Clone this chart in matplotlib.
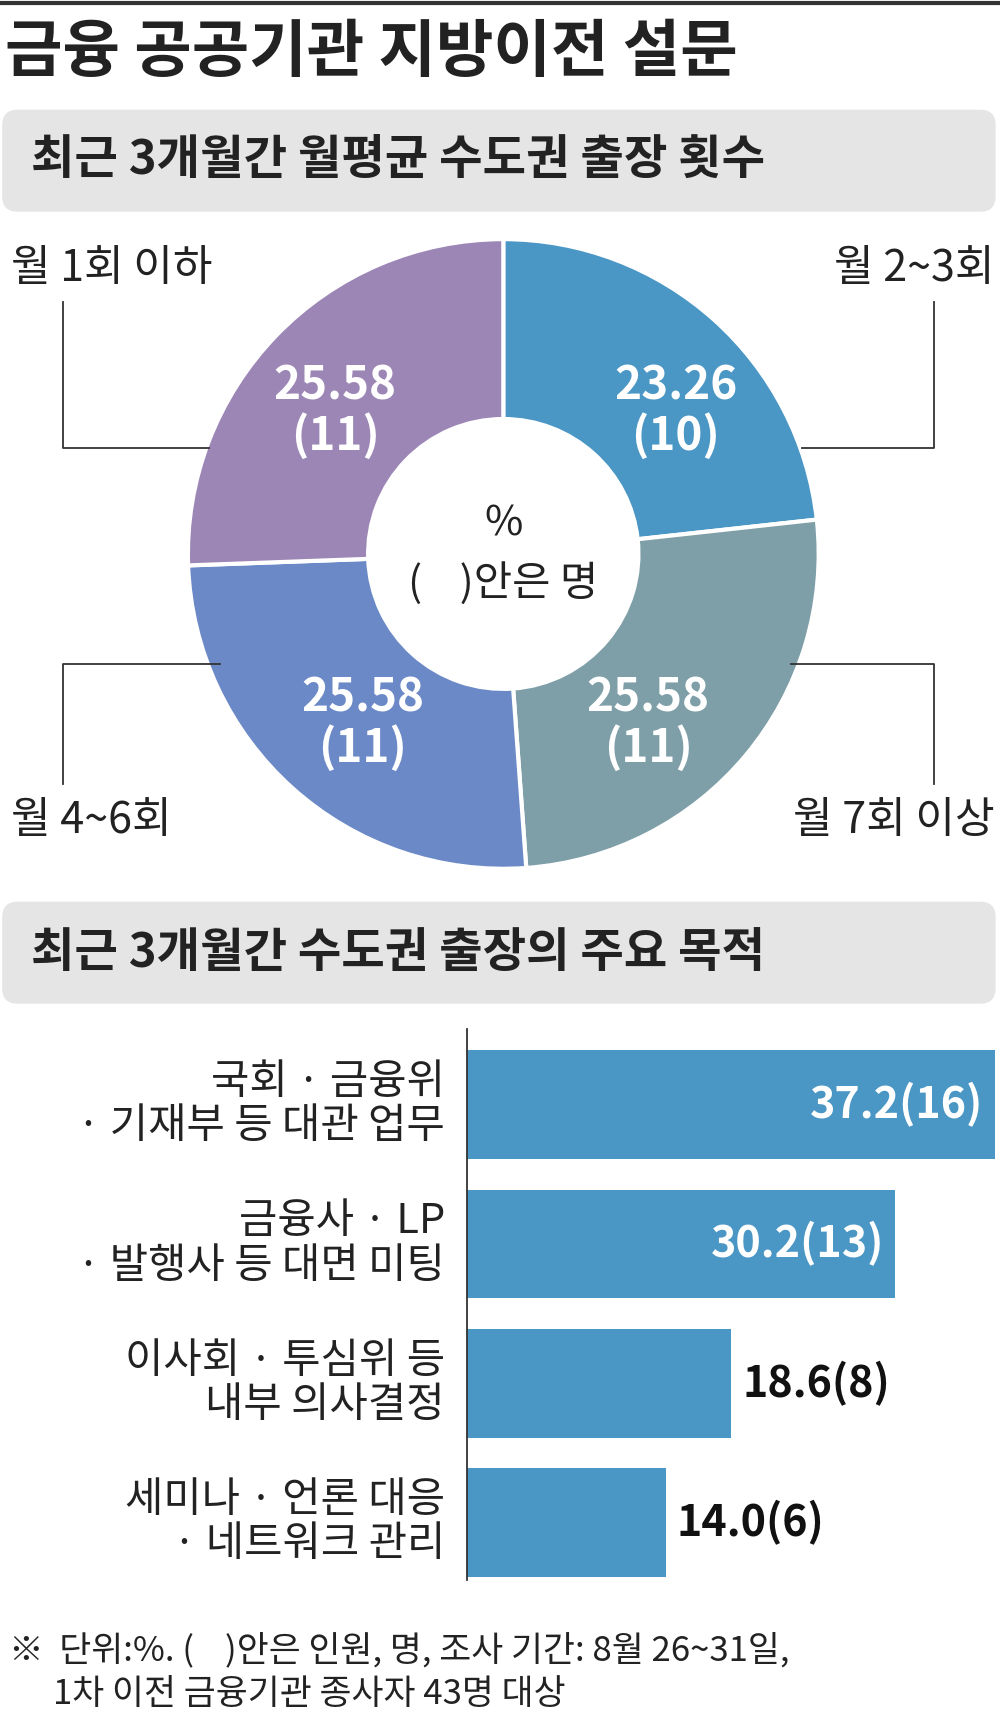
import matplotlib
matplotlib.use("Agg")
import matplotlib.pyplot as plt
from matplotlib.patches import FancyBboxPatch

plt.rcParams['font.family'] = ['Noto Sans CJK KR', 'DejaVu Sans']

# donut data (clockwise from top)
pie_vals = [23.26, 25.58, 25.58, 25.58]
pie_cnt = [10, 11, 11, 11]
pie_names = ['월 2~3회', '월 7회 이상', '월 4~6회', '월 1회 이하']
pie_colors = ['#4a96c4', '#7e9ea8', '#6a89c6', '#9c86b6']

# bar data
bar_labels = ['국회 · 금융위\n· 기재부 등 대관 업무', '금융사 · LP\n· 발행사 등 대면 미팅',
              '이사회 · 투심위 등\n내부 의사결정', '세미나 · 언론 대응\n· 네트워크 관리']
bar_vals = [37.2, 30.2, 18.6, 14.0]
bar_cnt = [16, 13, 8, 6]

W, H = 910, 1568
fig = plt.figure(figsize=(10, 17.2), dpi=100)
bg = fig.add_axes([0, 0, 1, 1])
bg.set_xlim(0, W)
bg.set_ylim(H, 0)
bg.axis('off')
bg.set_zorder(5)
bg.patch.set_visible(False)

bg.plot([0, W], [3, 3], color='#333333', lw=3)
bg.text(5, 48, '금융 공공기관 지방이전 설문', fontsize=45, fontweight='bold', va='center', color='#222222')

for y0, txt in [(100, '최근 3개월간 월평균 수도권 출장 횟수'), (822, '최근 3개월간 수도권 출장의 주요 목적')]:
    bg.add_patch(FancyBboxPatch((2, y0), W - 6, 93, boxstyle='round,pad=0,rounding_size=14',
                                fc='#e5e5e5', ec='none', zorder=0))
    bg.text(28, y0 + 47, txt, fontsize=34, fontweight='bold', va='center', color='#222222')

# leader lines and category labels
lc = '#333333'
bg.plot([57, 57, 190], [275, 408, 408], color=lc, lw=1.3)
bg.plot([850, 850, 730], [275, 408, 408], color=lc, lw=1.3)
bg.plot([57, 57, 200], [715, 605, 605], color=lc, lw=1.3)
bg.plot([850, 850, 720], [715, 605, 605], color=lc, lw=1.3)
bg.text(10, 245, pie_names[3], fontsize=31, va='center', color='#222222')
bg.text(905, 245, pie_names[0], fontsize=31, va='center', ha='right', color='#222222')
bg.text(10, 748, pie_names[2], fontsize=31, va='center', color='#222222')
bg.text(905, 748, pie_names[1], fontsize=31, va='center', ha='right', color='#222222')

# donut
cx, cy, r = 458, 505, 287
pax = fig.add_axes([(cx - r) / W, 1 - (cy + r) / H, 2 * r / W, 2 * r / H])
pax.pie(pie_vals, colors=pie_colors, startangle=90, counterclock=False, radius=1,
        wedgeprops=dict(width=1 - 123 / 287, edgecolor='white', linewidth=3))
pax.set_xlim(-1, 1)
pax.set_ylim(-1, 1)
pax.set_aspect('auto')
pax.axis('off')

val_pos = [(615, 375), (590, 660), (330, 660), (305, 375)]
for (x, y), v, n in zip(val_pos, pie_vals, pie_cnt):
    bg.text(x, y, f'{v:.2f}\n({n})', fontsize=33, fontweight='bold', color='white',
            ha='center', va='center', linespacing=1.1)
bg.text(458, 478, '%', fontsize=30, ha='center', va='center', color='#222222')
bg.text(458, 532, '(    )안은 명', fontsize=30, ha='center', va='center', color='#222222')

# bars
bx0, bx1, by0, by1 = 425, 905, 938, 1440
bax = fig.add_axes([bx0 / W, 1 - by1 / H, (bx1 - bx0) / W, (by1 - by0) / H])
ys = list(range(len(bar_vals)))
bax.barh(ys, bar_vals, height=0.78, color='#4a96c4')
bax.set_xlim(0, 37.2)
bax.set_ylim(3.41, -0.543)
bax.axis('off')
bg.plot([425, 425], [by0, by1], color=lc, lw=1.3)
for i, (v, n, lab) in enumerate(zip(bar_vals, bar_cnt, bar_labels)):
    txt = f'{v:.1f}({n})'
    if v > 25:
        bax.text(v - 0.8, i, txt, color='white', fontsize=31, fontweight='bold', ha='right', va='center')
    else:
        bax.text(v + 0.8, i, txt, color='#111111', fontsize=31, fontweight='bold', ha='left', va='center')
    bg.text(405, 1007 + 127 * i, lab, fontsize=30, ha='right', va='center', color='#222222',
            linespacing=1.1)

bg.text(8, 1505, '※  단위:%. (    )안은 인원, 명, 조사 기간: 8월 26~31일,', fontsize=25,
        va='center', color='#222222')
bg.text(48, 1545, '1차 이전 금융기관 종사자 43명 대상', fontsize=25, va='center', color='#222222')

fig.savefig('out.png', dpi=100)
